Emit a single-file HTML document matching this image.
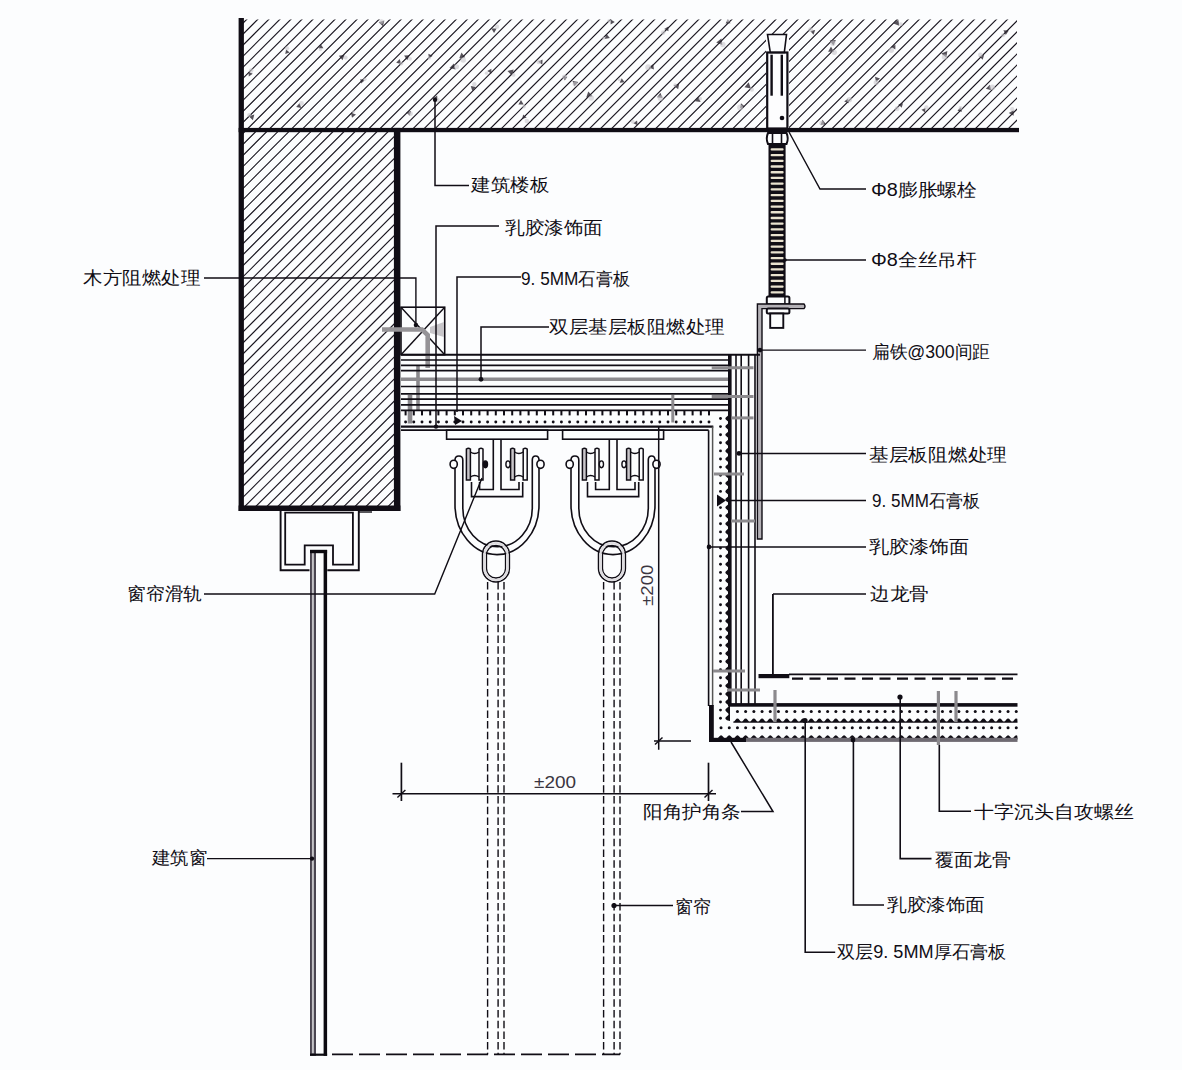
<!DOCTYPE html>
<html><head><meta charset="utf-8"><style>
html,body{margin:0;padding:0;background:#fdfdfe;width:1182px;height:1070px;overflow:hidden}
svg{display:block}
text{font-family:"Liberation Sans",sans-serif}
</style></head><body>
<svg width="1182" height="1070" viewBox="0 0 1182 1070">
<defs>
</defs>
<rect width="1182" height="1070" fill="#fcfdfe"/>
<clipPath id="hc"><rect x="243" y="19.5" width="774" height="110.5"/><rect x="243" y="130" width="153" height="376"/></clipPath>
<path clip-path="url(#hc)" d="M245.11,10 L-264.89,520 M256.13,10 L-253.87,520 M267.15,10 L-242.85,520 M278.18,10 L-231.82,520 M289.2,10 L-220.8,520 M300.23,10 L-209.77,520 M311.25,10 L-198.75,520 M322.28,10 L-187.72,520 M333.3,10 L-176.7,520 M344.33,10 L-165.67,520 M355.35,10 L-154.65,520 M366.38,10 L-143.62,520 M377.4,10 L-132.6,520 M388.43,10 L-121.57,520 M399.45,10 L-110.55,520 M410.48,10 L-99.52,520 M421.5,10 L-88.5,520 M432.53,10 L-77.47,520 M443.55,10 L-66.45,520 M454.58,10 L-55.42,520 M465.6,10 L-44.4,520 M476.63,10 L-33.37,520 M487.65,10 L-22.35,520 M498.68,10 L-11.32,520 M509.7,10 L-0.3,520 M520.73,10 L10.73,520 M531.75,10 L21.75,520 M542.78,10 L32.78,520 M553.8,10 L43.8,520 M564.83,10 L54.83,520 M575.85,10 L65.85,520 M586.88,10 L76.88,520 M597.9,10 L87.9,520 M608.93,10 L98.93,520 M619.95,10 L109.95,520 M630.98,10 L120.98,520 M642,10 L132,520 M653.03,10 L143.03,520 M664.05,10 L154.05,520 M675.08,10 L165.08,520 M686.1,10 L176.1,520 M697.13,10 L187.13,520 M708.15,10 L198.15,520 M719.18,10 L209.18,520 M730.2,10 L220.2,520 M741.23,10 L231.23,520 M752.25,10 L242.25,520 M763.28,10 L253.28,520 M774.3,10 L264.3,520 M785.33,10 L275.33,520 M796.35,10 L286.35,520 M807.38,10 L297.38,520 M818.4,10 L308.4,520 M829.43,10 L319.43,520 M840.45,10 L330.45,520 M851.48,10 L341.48,520 M862.5,10 L352.5,520 M873.53,10 L363.53,520 M884.55,10 L374.55,520 M895.58,10 L385.58,520 M906.6,10 L396.6,520 M917.63,10 L407.63,520 M928.65,10 L418.65,520 M939.68,10 L429.68,520 M950.7,10 L440.7,520 M961.73,10 L451.73,520 M972.75,10 L462.75,520 M983.78,10 L473.78,520 M994.8,10 L484.8,520 M1005.83,10 L495.83,520 M1016.85,10 L506.85,520 M1027.88,10 L517.88,520 M1038.9,10 L528.9,520 M1049.93,10 L539.93,520 M1060.95,10 L550.95,520 M1071.98,10 L561.98,520 M1083,10 L573,520 M1094.03,10 L584.03,520 M1105.05,10 L595.05,520 M1116.08,10 L606.08,520 M1127.1,10 L617.1,520 M1138.13,10 L628.13,520 M1149.15,10 L639.15,520" stroke="#1a1620" stroke-width="1.15" fill="none"/>
<polygon points="248.76,76.49 248.46,71.69 252.77,73.81" fill="#2a2530" opacity="0.8"/>
<circle cx="251.21" cy="70.58" r="2.3" fill="#c8c6cc" opacity="0.6"/>
<polygon points="285.23,54 286.15,49.47 289.62,52.51" fill="#2a2530" opacity="0.8"/>
<circle cx="287.06" cy="48.3" r="2.15" fill="#c8c6cc" opacity="0.6"/>
<polygon points="323.45,48.15 318.78,48.56 320.75,44.3" fill="#2a2530" opacity="0.8"/>
<circle cx="320.4" cy="49.61" r="1.69" fill="#c8c6cc" opacity="0.6"/>
<polygon points="342.56,60.31 338.85,55.85 344.56,54.84" fill="#2a2530" opacity="0.8"/>
<circle cx="345.58" cy="57.62" r="2.1" fill="#c8c6cc" opacity="0.6"/>
<polygon points="364.63,80.6 361.05,83.48 360.32,78.94" fill="#2a2530" opacity="0.8"/>
<circle cx="364.87" cy="79.32" r="1.72" fill="#c8c6cc" opacity="0.6"/>
<polygon points="301.19,108 296.17,106.91 299.61,103.09" fill="#2a2530" opacity="0.8"/>
<circle cx="301.53" cy="103.45" r="2.37" fill="#c8c6cc" opacity="0.6"/>
<polygon points="351.04,112.67 356,114.45 351.99,117.87" fill="#2a2530" opacity="0.8"/>
<circle cx="353.38" cy="111.5" r="1.59" fill="#c8c6cc" opacity="0.6"/>
<polygon points="382.94,26.29 378.68,22.18 384.36,20.53" fill="#2a2530" opacity="0.8"/>
<circle cx="381.42" cy="21.51" r="2.38" fill="#c8c6cc" opacity="0.6"/>
<polygon points="396.17,62.86 399.66,59.11 401.18,64" fill="#2a2530" opacity="0.8"/>
<circle cx="401.36" cy="63.59" r="1.87" fill="#c8c6cc" opacity="0.6"/>
<polygon points="404.11,55.55 409.69,55.21 407.21,60.22" fill="#2a2530" opacity="0.8"/>
<circle cx="410" cy="58.84" r="1.93" fill="#c8c6cc" opacity="0.6"/>
<polygon points="432.72,55.65 428.95,58.53 428.32,53.83" fill="#2a2530" opacity="0.8"/>
<circle cx="429.34" cy="58.06" r="1.73" fill="#c8c6cc" opacity="0.6"/>
<polygon points="433.36,98.19 437.15,95.61 437.5,100.18" fill="#2a2530" opacity="0.8"/>
<circle cx="437.35" cy="100.12" r="2.36" fill="#c8c6cc" opacity="0.6"/>
<polygon points="411.11,110.9 409.78,115.87 406.12,112.25" fill="#2a2530" opacity="0.8"/>
<circle cx="410.56" cy="113.75" r="2.37" fill="#c8c6cc" opacity="0.6"/>
<polygon points="449.53,67.99 453.87,63.5 455.61,69.49" fill="#2a2530" opacity="0.8"/>
<circle cx="456.56" cy="66.79" r="2.5" fill="#c8c6cc" opacity="0.6"/>
<polygon points="465.19,57.28 459.3,58.14 461.48,52.6" fill="#2a2530" opacity="0.8"/>
<circle cx="463.18" cy="59.94" r="2.73" fill="#c8c6cc" opacity="0.6"/>
<polygon points="472.34,90.99 470.73,85.94 475.91,87.05" fill="#2a2530" opacity="0.8"/>
<circle cx="474.35" cy="84.18" r="2.19" fill="#c8c6cc" opacity="0.6"/>
<polygon points="491.35,73.38 487.26,70.99 491.37,68.63" fill="#2a2530" opacity="0.8"/>
<circle cx="486.47" cy="73.15" r="1.69" fill="#c8c6cc" opacity="0.6"/>
<polygon points="494.05,33.07 491.31,28.52 496.62,28.4" fill="#2a2530" opacity="0.8"/>
<circle cx="496.97" cy="26.64" r="2.17" fill="#c8c6cc" opacity="0.6"/>
<polygon points="507.51,70.89 513.7,69.52 511.81,75.57" fill="#2a2530" opacity="0.8"/>
<circle cx="513.55" cy="74.91" r="1.92" fill="#c8c6cc" opacity="0.6"/>
<polygon points="518.39,104.54 520.96,99.97 523.65,104.47" fill="#2a2530" opacity="0.8"/>
<circle cx="524.07" cy="106.66" r="1.73" fill="#c8c6cc" opacity="0.6"/>
<polygon points="542.29,64.57 538.13,61.84 542.56,59.58" fill="#2a2530" opacity="0.8"/>
<circle cx="538.87" cy="61.88" r="2.38" fill="#c8c6cc" opacity="0.6"/>
<polygon points="564.79,80.6 562.85,76.53 567.34,76.86" fill="#2a2530" opacity="0.8"/>
<circle cx="564.35" cy="76.95" r="2.35" fill="#c8c6cc" opacity="0.6"/>
<polygon points="578.28,81.99 574.25,86.34 572.47,80.69" fill="#2a2530" opacity="0.8"/>
<circle cx="575.12" cy="83.94" r="2.51" fill="#c8c6cc" opacity="0.6"/>
<polygon points="592.47,96.22 586.22,97.41 588.29,91.39" fill="#2a2530" opacity="0.8"/>
<circle cx="591.24" cy="98" r="2.7" fill="#c8c6cc" opacity="0.6"/>
<polygon points="604.6,38.93 606.51,33.96 609.88,38.09" fill="#2a2530" opacity="0.8"/>
<circle cx="603.83" cy="38.07" r="1.59" fill="#c8c6cc" opacity="0.6"/>
<polygon points="624.6,82.17 619.69,82.68 621.69,78.17" fill="#2a2530" opacity="0.8"/>
<circle cx="619.3" cy="79.72" r="1.58" fill="#c8c6cc" opacity="0.6"/>
<polygon points="614.78,22 610.62,24.41 610.59,19.6" fill="#2a2530" opacity="0.8"/>
<circle cx="608.81" cy="20.91" r="1.54" fill="#c8c6cc" opacity="0.6"/>
<polygon points="254.34,114.62 252.9,120.21 248.76,116.19" fill="#2a2530" opacity="0.8"/>
<circle cx="249.19" cy="115.02" r="2.02" fill="#c8c6cc" opacity="0.6"/>
<polygon points="522.2,119.07 523.1,114.41 526.7,117.5" fill="#2a2530" opacity="0.8"/>
<circle cx="526.79" cy="120.94" r="2.2" fill="#c8c6cc" opacity="0.6"/>
<polygon points="633.31,123.28 637.09,120.53 637.6,125.18" fill="#2a2530" opacity="0.8"/>
<circle cx="632.82" cy="121.74" r="1.9" fill="#c8c6cc" opacity="0.6"/>
<polygon points="668.32,26.54 668.48,31.37 664.21,29.11" fill="#2a2530" opacity="0.8"/>
<circle cx="663.18" cy="32.61" r="2.29" fill="#c8c6cc" opacity="0.6"/>
<polygon points="653.97,69.59 648.78,67.42 653.23,63.99" fill="#2a2530" opacity="0.8"/>
<circle cx="648.22" cy="67.22" r="2.97" fill="#c8c6cc" opacity="0.6"/>
<polygon points="679.24,83.39 678.15,89.24 673.62,85.4" fill="#2a2530" opacity="0.8"/>
<circle cx="675.09" cy="84.93" r="1.75" fill="#c8c6cc" opacity="0.6"/>
<polygon points="698.44,96.79 700.57,101.97 695.01,101.25" fill="#2a2530" opacity="0.8"/>
<circle cx="700.23" cy="98.64" r="1.83" fill="#c8c6cc" opacity="0.6"/>
<polygon points="721.42,38.49 722.34,44.97 716.26,42.56" fill="#2a2530" opacity="0.8"/>
<circle cx="722.82" cy="44.45" r="2.73" fill="#c8c6cc" opacity="0.6"/>
<polygon points="727.81,19.13 730.58,23.26 725.63,23.62" fill="#2a2530" opacity="0.8"/>
<circle cx="728.14" cy="20.84" r="1.54" fill="#c8c6cc" opacity="0.6"/>
<polygon points="744.89,106.51 740.12,108.26 740.97,103.25" fill="#2a2530" opacity="0.8"/>
<circle cx="740.07" cy="107.54" r="2.93" fill="#c8c6cc" opacity="0.6"/>
<polygon points="744.48,87.22 748.69,82.34 750.84,88.41" fill="#2a2530" opacity="0.8"/>
<circle cx="751.9" cy="89.64" r="2.05" fill="#c8c6cc" opacity="0.6"/>
<polygon points="813.53,34.82 810.29,31.06 815.16,30.11" fill="#2a2530" opacity="0.8"/>
<circle cx="810.57" cy="29.63" r="2.44" fill="#c8c6cc" opacity="0.6"/>
<polygon points="835.92,39.88 833.4,45.59 829.69,40.56" fill="#2a2530" opacity="0.8"/>
<circle cx="832.84" cy="43.22" r="2.7" fill="#c8c6cc" opacity="0.6"/>
<polygon points="833.92,51.72 828.05,51.68 831,46.61" fill="#2a2530" opacity="0.8"/>
<circle cx="834.28" cy="52.26" r="2.63" fill="#c8c6cc" opacity="0.6"/>
<polygon points="844.21,101.39 848.04,98.39 848.75,103.2" fill="#2a2530" opacity="0.8"/>
<circle cx="849.31" cy="99.66" r="2.7" fill="#c8c6cc" opacity="0.6"/>
<polygon points="880.02,78.45 875.98,81.9 874.99,76.68" fill="#2a2530" opacity="0.8"/>
<circle cx="876.21" cy="82.57" r="2.59" fill="#c8c6cc" opacity="0.6"/>
<polygon points="895.33,49.41 891.25,46.96 895.4,44.63" fill="#2a2530" opacity="0.8"/>
<circle cx="891.21" cy="50.24" r="2.71" fill="#c8c6cc" opacity="0.6"/>
<polygon points="899.18,25.85 893.44,23.48 898.35,19.67" fill="#2a2530" opacity="0.8"/>
<circle cx="900.84" cy="24.26" r="2.03" fill="#c8c6cc" opacity="0.6"/>
<polygon points="898.37,104.17 903.02,103.13 901.62,107.69" fill="#2a2530" opacity="0.8"/>
<circle cx="897.11" cy="108.77" r="2.47" fill="#c8c6cc" opacity="0.6"/>
<polygon points="941.33,53.39 947.35,51.12 946.34,57.47" fill="#2a2530" opacity="0.8"/>
<circle cx="944.47" cy="56.97" r="2.74" fill="#c8c6cc" opacity="0.6"/>
<polygon points="982.71,59.82 979.21,56.22 984.07,54.96" fill="#2a2530" opacity="0.8"/>
<circle cx="980.34" cy="54.92" r="2.38" fill="#c8c6cc" opacity="0.6"/>
<polygon points="1005.82,35.1 1003.4,30.31 1008.76,30.58" fill="#2a2530" opacity="0.8"/>
<circle cx="1003.05" cy="35.28" r="2.03" fill="#c8c6cc" opacity="0.6"/>
<polygon points="985.81,88.86 989.83,84.81 991.36,90.31" fill="#2a2530" opacity="0.8"/>
<circle cx="992.23" cy="87.37" r="2.88" fill="#c8c6cc" opacity="0.6"/>
<polygon points="1008.76,112.97 1013.63,110.2 1013.62,115.8" fill="#2a2530" opacity="0.8"/>
<circle cx="1012.19" cy="109.15" r="2.16" fill="#c8c6cc" opacity="0.6"/>
<polygon points="925.06,112.38 921.41,109.74 925.51,107.88" fill="#2a2530" opacity="0.8"/>
<circle cx="926.39" cy="107.38" r="2.21" fill="#c8c6cc" opacity="0.6"/>
<polygon points="822.49,119.77 826.06,124.15 820.48,125.08" fill="#2a2530" opacity="0.8"/>
<circle cx="821.61" cy="123.15" r="2.33" fill="#c8c6cc" opacity="0.6"/>
<polygon points="960.58,107.33 962.03,111.82 957.41,110.86" fill="#2a2530" opacity="0.8"/>
<circle cx="960.48" cy="107.99" r="1.92" fill="#c8c6cc" opacity="0.6"/>
<polygon points="660.44,92.82 662.54,97.96 657.04,97.23" fill="#2a2530" opacity="0.8"/>
<circle cx="660.49" cy="98.08" r="2.87" fill="#c8c6cc" opacity="0.6"/>
<polygon points="778.88,118.17 782.54,113.71 784.59,119.1" fill="#2a2530" opacity="0.8"/>
<circle cx="782.04" cy="117.1" r="2.54" fill="#c8c6cc" opacity="0.6"/>
<rect x="238.6" y="18" width="5.3" height="493" fill="#100d15"/>
<rect x="238.6" y="127.9" width="780.4" height="4.3" fill="#100d15"/>
<rect x="393.9" y="127.9" width="6.5" height="383.1" fill="#100d15"/>
<rect x="238.6" y="505.5" width="161.8" height="5.5" fill="#100d15"/>
<path d="M280.6,511 V570.2 H309.5 M327.3,570.2 H358.8 V511" fill="none" stroke="#100d15" stroke-width="1.9" />
<path d="M285.2,512.7 H352.9 V564.7 H333 V545.3 H304.7 V564.7 H285.2 Z" fill="none" stroke="#100d15" stroke-width="1.8" />
<line x1="359" y1="512" x2="372" y2="512" stroke="#100d15" stroke-width="1.4" />
<rect x="310" y="550" width="6" height="505.8" fill="#4a4550"/>
<rect x="311.9" y="553" width="2" height="500.5" fill="#c4c2c6"/>
<rect x="323.6" y="550" width="3.5" height="505.8" fill="#0c0a10"/>
<rect x="310" y="549.8" width="17.1" height="3.4" fill="#0c0a10"/>
<rect x="310" y="1053.6" width="17.1" height="2.2" fill="#0c0a10"/>
<rect x="766" y="34" width="23" height="94" fill="#fdfdfe"/>
<path d="M767.5,34.5 H786.5 L784.3,52.5 H770.3 Z" fill="#fcfdfe" stroke="#100d15" stroke-width="1.6" />
<rect x="767.2" y="52.5" width="20.2" height="76" fill="none" stroke="#100d15" stroke-width="2.2" />
<rect x="770.4" y="54.7" width="2.4" height="41" fill="#100d15"/>
<rect x="780.6" y="54.7" width="2.4" height="41" fill="#100d15"/>
<circle cx="782" cy="118" r="2.3" fill="#100d15"/>
<path d="M789,132 L820,189 H866" fill="none" stroke="#100d15" stroke-width="1.4" />
<path d="M768,133 H786.5 Q789,138.5 786.5,144 H768 Q765.5,138.5 768,133 Z" fill="#fcfdfe" stroke="#100d15" stroke-width="2" />
<line x1="772.5" y1="133" x2="772.5" y2="144" stroke="#100d15" stroke-width="1.6" />
<line x1="781.5" y1="133" x2="781.5" y2="144" stroke="#100d15" stroke-width="1.6" />
<rect x="768.5" y="144" width="17.1" height="152.2" fill="#100d15"/>
<rect x="770.6" y="148.2" width="13" height="2.3" rx="1" fill="#e9e2cf"/>
<rect x="770.6" y="153.92" width="13" height="2.3" rx="1" fill="#e9e2cf"/>
<rect x="770.6" y="159.64" width="13" height="2.3" rx="1" fill="#e9e2cf"/>
<rect x="770.6" y="165.36" width="13" height="2.3" rx="1" fill="#e9e2cf"/>
<rect x="770.6" y="171.08" width="13" height="2.3" rx="1" fill="#e9e2cf"/>
<rect x="770.6" y="176.8" width="13" height="2.3" rx="1" fill="#e9e2cf"/>
<rect x="770.6" y="182.52" width="13" height="2.3" rx="1" fill="#e9e2cf"/>
<rect x="770.6" y="188.24" width="13" height="2.3" rx="1" fill="#e9e2cf"/>
<rect x="770.6" y="193.96" width="13" height="2.3" rx="1" fill="#e9e2cf"/>
<rect x="770.6" y="199.68" width="13" height="2.3" rx="1" fill="#e9e2cf"/>
<rect x="770.6" y="205.4" width="13" height="2.3" rx="1" fill="#e9e2cf"/>
<rect x="770.6" y="211.12" width="13" height="2.3" rx="1" fill="#e9e2cf"/>
<rect x="770.6" y="216.84" width="13" height="2.3" rx="1" fill="#e9e2cf"/>
<rect x="770.6" y="222.56" width="13" height="2.3" rx="1" fill="#e9e2cf"/>
<rect x="770.6" y="228.28" width="13" height="2.3" rx="1" fill="#e9e2cf"/>
<rect x="770.6" y="234" width="13" height="2.3" rx="1" fill="#e9e2cf"/>
<rect x="770.6" y="239.72" width="13" height="2.3" rx="1" fill="#e9e2cf"/>
<rect x="770.6" y="245.44" width="13" height="2.3" rx="1" fill="#e9e2cf"/>
<rect x="770.6" y="251.16" width="13" height="2.3" rx="1" fill="#e9e2cf"/>
<rect x="770.6" y="256.88" width="13" height="2.3" rx="1" fill="#e9e2cf"/>
<rect x="770.6" y="262.6" width="13" height="2.3" rx="1" fill="#e9e2cf"/>
<rect x="770.6" y="268.32" width="13" height="2.3" rx="1" fill="#e9e2cf"/>
<rect x="770.6" y="274.04" width="13" height="2.3" rx="1" fill="#e9e2cf"/>
<rect x="770.6" y="279.76" width="13" height="2.3" rx="1" fill="#e9e2cf"/>
<rect x="770.6" y="285.48" width="13" height="2.3" rx="1" fill="#e9e2cf"/>
<rect x="770.6" y="291.2" width="13" height="2.3" rx="1" fill="#e9e2cf"/>
<rect x="766.8" y="296.4" width="22.6" height="7.8" fill="#fcfdfe" stroke="#100d15" stroke-width="2" rx="1.5"/>
<line x1="784.9" y1="296.4" x2="784.9" y2="304" stroke="#100d15" stroke-width="1.5" />
<path d="M757.4,539 V304 H804 Q806,306.3 804,308.6 H762 V539 Z" fill="#b4b1b6" stroke="#100d15" stroke-width="1.4" />
<rect x="766.8" y="308.6" width="22.6" height="5" fill="#fcfdfe" stroke="#100d15" stroke-width="2" rx="1.5"/>
<rect x="770.2" y="313.5" width="13.1" height="14.4" fill="#fcfdfe" stroke="#100d15" stroke-width="1.9" />
<line x1="785" y1="260" x2="866" y2="260" stroke="#100d15" stroke-width="1.4" />
<circle cx="785" cy="260" r="1.8" fill="#100d15"/>
<line x1="760" y1="350.1" x2="866" y2="350.1" stroke="#100d15" stroke-width="1.4" />
<circle cx="760" cy="350.1" r="2.3" fill="#100d15"/>
<rect x="401" y="307.2" width="43.7" height="47.5" fill="none" stroke="#100d15" stroke-width="1.6" />
<line x1="401" y1="307.2" x2="444.7" y2="354.7" stroke="#100d15" stroke-width="1.4" />
<line x1="444.7" y1="307.2" x2="401" y2="354.7" stroke="#100d15" stroke-width="1.4" />
<path d="M382,329.5 H422 L427.7,335 V368" fill="none" stroke="#959397" stroke-width="4.6" />
<polygon points="430,327 444,322 444,337 430,333" fill="#c8c6ca"/>
<line x1="418" y1="365" x2="418" y2="411" stroke="#8a888c" stroke-width="3.6" />
<line x1="410" y1="395" x2="410" y2="423.5" stroke="#8a888c" stroke-width="4.6" />
<line x1="401" y1="354.7" x2="760" y2="354.7" stroke="#100d15" stroke-width="2" />
<line x1="401" y1="360" x2="730" y2="360" stroke="#100d15" stroke-width="1.7" />
<line x1="401" y1="365.4" x2="730" y2="365.4" stroke="#100d15" stroke-width="1.7" />
<line x1="401" y1="370.6" x2="730" y2="370.6" stroke="#100d15" stroke-width="1.7" />
<line x1="401" y1="386.5" x2="730" y2="386.5" stroke="#100d15" stroke-width="1.7" />
<line x1="401" y1="393.8" x2="730" y2="393.8" stroke="#100d15" stroke-width="1.7" />
<line x1="401" y1="399.2" x2="730" y2="399.2" stroke="#100d15" stroke-width="1.7" />
<line x1="401" y1="404.9" x2="730" y2="404.9" stroke="#100d15" stroke-width="1.7" />
<line x1="401" y1="379.3" x2="730" y2="379.3" stroke="#8c8a8e" stroke-width="3.6" />
<line x1="401" y1="410.4" x2="730" y2="410.4" stroke="#100d15" stroke-width="1.8" />
<rect x="404.6" y="410.4" width="2" height="5" fill="#100d15"/>
<circle cx="405.6" cy="422" r="1.45" fill="#100d15"/>
<rect x="412.8" y="410.4" width="2" height="5" fill="#100d15"/>
<circle cx="413.8" cy="422" r="1.45" fill="#100d15"/>
<rect x="421" y="410.4" width="2" height="5" fill="#100d15"/>
<circle cx="422" cy="422" r="1.45" fill="#100d15"/>
<rect x="429.2" y="410.4" width="2" height="5" fill="#100d15"/>
<circle cx="430.2" cy="422" r="1.45" fill="#100d15"/>
<rect x="437.4" y="410.4" width="2" height="5" fill="#100d15"/>
<circle cx="438.4" cy="422" r="1.45" fill="#100d15"/>
<rect x="445.6" y="410.4" width="2" height="5" fill="#100d15"/>
<circle cx="446.6" cy="422" r="1.45" fill="#100d15"/>
<rect x="453.8" y="410.4" width="2" height="5" fill="#100d15"/>
<circle cx="454.8" cy="422" r="1.45" fill="#100d15"/>
<rect x="462" y="410.4" width="2" height="5" fill="#100d15"/>
<circle cx="463" cy="422" r="1.45" fill="#100d15"/>
<rect x="470.2" y="410.4" width="2" height="5" fill="#100d15"/>
<circle cx="471.2" cy="422" r="1.45" fill="#100d15"/>
<rect x="478.4" y="410.4" width="2" height="5" fill="#100d15"/>
<circle cx="479.4" cy="422" r="1.45" fill="#100d15"/>
<rect x="486.6" y="410.4" width="2" height="5" fill="#100d15"/>
<circle cx="487.6" cy="422" r="1.45" fill="#100d15"/>
<rect x="494.8" y="410.4" width="2" height="5" fill="#100d15"/>
<circle cx="495.8" cy="422" r="1.45" fill="#100d15"/>
<rect x="503" y="410.4" width="2" height="5" fill="#100d15"/>
<circle cx="504" cy="422" r="1.45" fill="#100d15"/>
<rect x="511.2" y="410.4" width="2" height="5" fill="#100d15"/>
<circle cx="512.2" cy="422" r="1.45" fill="#100d15"/>
<rect x="519.4" y="410.4" width="2" height="5" fill="#100d15"/>
<circle cx="520.4" cy="422" r="1.45" fill="#100d15"/>
<rect x="527.6" y="410.4" width="2" height="5" fill="#100d15"/>
<circle cx="528.6" cy="422" r="1.45" fill="#100d15"/>
<rect x="535.8" y="410.4" width="2" height="5" fill="#100d15"/>
<circle cx="536.8" cy="422" r="1.45" fill="#100d15"/>
<rect x="544" y="410.4" width="2" height="5" fill="#100d15"/>
<circle cx="545" cy="422" r="1.45" fill="#100d15"/>
<rect x="552.2" y="410.4" width="2" height="5" fill="#100d15"/>
<circle cx="553.2" cy="422" r="1.45" fill="#100d15"/>
<rect x="560.4" y="410.4" width="2" height="5" fill="#100d15"/>
<circle cx="561.4" cy="422" r="1.45" fill="#100d15"/>
<rect x="568.6" y="410.4" width="2" height="5" fill="#100d15"/>
<circle cx="569.6" cy="422" r="1.45" fill="#100d15"/>
<rect x="576.8" y="410.4" width="2" height="5" fill="#100d15"/>
<circle cx="577.8" cy="422" r="1.45" fill="#100d15"/>
<rect x="585" y="410.4" width="2" height="5" fill="#100d15"/>
<circle cx="586" cy="422" r="1.45" fill="#100d15"/>
<rect x="593.2" y="410.4" width="2" height="5" fill="#100d15"/>
<circle cx="594.2" cy="422" r="1.45" fill="#100d15"/>
<rect x="601.4" y="410.4" width="2" height="5" fill="#100d15"/>
<circle cx="602.4" cy="422" r="1.45" fill="#100d15"/>
<rect x="609.6" y="410.4" width="2" height="5" fill="#100d15"/>
<circle cx="610.6" cy="422" r="1.45" fill="#100d15"/>
<rect x="617.8" y="410.4" width="2" height="5" fill="#100d15"/>
<circle cx="618.8" cy="422" r="1.45" fill="#100d15"/>
<rect x="626" y="410.4" width="2" height="5" fill="#100d15"/>
<circle cx="627" cy="422" r="1.45" fill="#100d15"/>
<rect x="634.2" y="410.4" width="2" height="5" fill="#100d15"/>
<circle cx="635.2" cy="422" r="1.45" fill="#100d15"/>
<rect x="642.4" y="410.4" width="2" height="5" fill="#100d15"/>
<circle cx="643.4" cy="422" r="1.45" fill="#100d15"/>
<rect x="650.6" y="410.4" width="2" height="5" fill="#100d15"/>
<circle cx="651.6" cy="422" r="1.45" fill="#100d15"/>
<rect x="658.8" y="410.4" width="2" height="5" fill="#100d15"/>
<circle cx="659.8" cy="422" r="1.45" fill="#100d15"/>
<rect x="667" y="410.4" width="2" height="5" fill="#100d15"/>
<circle cx="668" cy="422" r="1.45" fill="#100d15"/>
<rect x="675.2" y="410.4" width="2" height="5" fill="#100d15"/>
<circle cx="676.2" cy="422" r="1.45" fill="#100d15"/>
<rect x="683.4" y="410.4" width="2" height="5" fill="#100d15"/>
<circle cx="684.4" cy="422" r="1.45" fill="#100d15"/>
<rect x="691.6" y="410.4" width="2" height="5" fill="#100d15"/>
<circle cx="692.6" cy="422" r="1.45" fill="#100d15"/>
<rect x="699.8" y="410.4" width="2" height="5" fill="#100d15"/>
<circle cx="700.8" cy="422" r="1.45" fill="#100d15"/>
<rect x="708" y="410.4" width="2" height="5" fill="#100d15"/>
<circle cx="709" cy="422" r="1.45" fill="#100d15"/>
<line x1="401" y1="426.6" x2="713.3" y2="426.6" stroke="#100d15" stroke-width="2.2" />
<line x1="401" y1="430.2" x2="708.6" y2="430.2" stroke="#100d15" stroke-width="1.8" />
<line x1="708.6" y1="430.2" x2="708.6" y2="706" stroke="#100d15" stroke-width="1.6" />
<line x1="712.6" y1="426.6" x2="712.6" y2="706" stroke="#555" stroke-width="1.5" />
<rect x="709" y="705" width="4.8" height="37" fill="#100d15"/>
<rect x="728" y="354.7" width="3.6" height="351.3" fill="#100d15"/>
<line x1="736" y1="354.7" x2="736" y2="704.5" stroke="#100d15" stroke-width="1.6" />
<line x1="741.2" y1="354.7" x2="741.2" y2="704.5" stroke="#100d15" stroke-width="1.6" />
<line x1="748.6" y1="354.7" x2="748.6" y2="704.5" stroke="#100d15" stroke-width="1.6" />
<line x1="755" y1="354.7" x2="755" y2="704.5" stroke="#100d15" stroke-width="1.6" />
<circle cx="720.5" cy="418.5" r="1.45" fill="#100d15"/>
<circle cx="720.5" cy="426.6" r="1.45" fill="#100d15"/>
<circle cx="720.5" cy="434.7" r="1.45" fill="#100d15"/>
<circle cx="720.5" cy="442.8" r="1.45" fill="#100d15"/>
<circle cx="720.5" cy="450.9" r="1.45" fill="#100d15"/>
<circle cx="720.5" cy="459" r="1.45" fill="#100d15"/>
<circle cx="720.5" cy="467.1" r="1.45" fill="#100d15"/>
<circle cx="720.5" cy="475.2" r="1.45" fill="#100d15"/>
<circle cx="720.5" cy="483.3" r="1.45" fill="#100d15"/>
<circle cx="720.5" cy="491.4" r="1.45" fill="#100d15"/>
<circle cx="720.5" cy="499.5" r="1.45" fill="#100d15"/>
<circle cx="720.5" cy="507.6" r="1.45" fill="#100d15"/>
<circle cx="720.5" cy="515.7" r="1.45" fill="#100d15"/>
<circle cx="720.5" cy="523.8" r="1.45" fill="#100d15"/>
<circle cx="720.5" cy="531.9" r="1.45" fill="#100d15"/>
<circle cx="720.5" cy="540" r="1.45" fill="#100d15"/>
<circle cx="720.5" cy="548.1" r="1.45" fill="#100d15"/>
<circle cx="720.5" cy="556.2" r="1.45" fill="#100d15"/>
<circle cx="720.5" cy="564.3" r="1.45" fill="#100d15"/>
<circle cx="720.5" cy="572.4" r="1.45" fill="#100d15"/>
<circle cx="720.5" cy="580.5" r="1.45" fill="#100d15"/>
<circle cx="720.5" cy="588.6" r="1.45" fill="#100d15"/>
<circle cx="720.5" cy="596.7" r="1.45" fill="#100d15"/>
<circle cx="720.5" cy="604.8" r="1.45" fill="#100d15"/>
<circle cx="720.5" cy="612.9" r="1.45" fill="#100d15"/>
<circle cx="720.5" cy="621" r="1.45" fill="#100d15"/>
<circle cx="720.5" cy="629.1" r="1.45" fill="#100d15"/>
<circle cx="720.5" cy="637.2" r="1.45" fill="#100d15"/>
<circle cx="720.5" cy="645.3" r="1.45" fill="#100d15"/>
<circle cx="720.5" cy="653.4" r="1.45" fill="#100d15"/>
<circle cx="720.5" cy="661.5" r="1.45" fill="#100d15"/>
<circle cx="720.5" cy="669.6" r="1.45" fill="#100d15"/>
<circle cx="720.5" cy="677.7" r="1.45" fill="#100d15"/>
<circle cx="720.5" cy="685.8" r="1.45" fill="#100d15"/>
<circle cx="720.5" cy="693.9" r="1.45" fill="#100d15"/>
<circle cx="720.5" cy="702" r="1.45" fill="#100d15"/>
<circle cx="720.5" cy="710.1" r="1.45" fill="#100d15"/>
<circle cx="720.5" cy="718.2" r="1.45" fill="#100d15"/>
<path d="M730,414.4 L728.6,414.45 L728.12,415.46 L726.95,416.47 L725.78,417.49 L725.3,418.5 L725.78,419.51 L726.95,420.52 L728.12,421.54 L728.6,422.55 L728.12,423.56 L726.95,424.57 L725.78,425.59 L725.3,426.6 L725.78,427.61 L726.95,428.62 L728.12,429.64 L728.6,430.65 L728.12,431.66 L726.95,432.67 L725.78,433.69 L725.3,434.7 L725.78,435.71 L726.95,436.72 L728.12,437.74 L728.6,438.75 L728.12,439.76 L726.95,440.77 L725.78,441.79 L725.3,442.8 L725.78,443.81 L726.95,444.82 L728.12,445.84 L728.6,446.85 L728.12,447.86 L726.95,448.87 L725.78,449.89 L725.3,450.9 L725.78,451.91 L726.95,452.92 L728.12,453.94 L728.6,454.95 L728.12,455.96 L726.95,456.97 L725.78,457.99 L725.3,459 L725.78,460.01 L726.95,461.02 L728.12,462.04 L728.6,463.05 L728.12,464.06 L726.95,465.07 L725.78,466.09 L725.3,467.1 L725.78,468.11 L726.95,469.12 L728.12,470.14 L728.6,471.15 L728.12,472.16 L726.95,473.17 L725.78,474.19 L725.3,475.2 L725.78,476.21 L726.95,477.22 L728.12,478.24 L728.6,479.25 L728.12,480.26 L726.95,481.27 L725.78,482.29 L725.3,483.3 L725.78,484.31 L726.95,485.32 L728.12,486.34 L728.6,487.35 L728.12,488.36 L726.95,489.37 L725.78,490.39 L725.3,491.4 L725.78,492.41 L726.95,493.42 L728.12,494.44 L728.6,495.45 L728.12,496.46 L726.95,497.47 L725.78,498.49 L725.3,499.5 L725.78,500.51 L726.95,501.52 L728.12,502.54 L728.6,503.55 L728.12,504.56 L726.95,505.57 L725.78,506.59 L725.3,507.6 L725.78,508.61 L726.95,509.62 L728.12,510.64 L728.6,511.65 L728.12,512.66 L726.95,513.67 L725.78,514.69 L725.3,515.7 L725.78,516.71 L726.95,517.72 L728.12,518.74 L728.6,519.75 L728.12,520.76 L726.95,521.77 L725.78,522.79 L725.3,523.8 L725.78,524.81 L726.95,525.82 L728.12,526.84 L728.6,527.85 L728.12,528.86 L726.95,529.87 L725.78,530.89 L725.3,531.9 L725.78,532.91 L726.95,533.92 L728.12,534.94 L728.6,535.95 L728.12,536.96 L726.95,537.98 L725.78,538.99 L725.3,540 L725.78,541.01 L726.95,542.03 L728.12,543.04 L728.6,544.05 L728.12,545.06 L726.95,546.08 L725.78,547.09 L725.3,548.1 L725.78,549.11 L726.95,550.13 L728.12,551.14 L728.6,552.15 L728.12,553.16 L726.95,554.18 L725.78,555.19 L725.3,556.2 L725.78,557.21 L726.95,558.23 L728.12,559.24 L728.6,560.25 L728.12,561.26 L726.95,562.28 L725.78,563.29 L725.3,564.3 L725.78,565.31 L726.95,566.33 L728.12,567.34 L728.6,568.35 L728.12,569.36 L726.95,570.38 L725.78,571.39 L725.3,572.4 L725.78,573.41 L726.95,574.43 L728.12,575.44 L728.6,576.45 L728.12,577.46 L726.95,578.48 L725.78,579.49 L725.3,580.5 L725.78,581.51 L726.95,582.53 L728.12,583.54 L728.6,584.55 L728.12,585.56 L726.95,586.58 L725.78,587.59 L725.3,588.6 L725.78,589.61 L726.95,590.63 L728.12,591.64 L728.6,592.65 L728.12,593.66 L726.95,594.68 L725.78,595.69 L725.3,596.7 L725.78,597.71 L726.95,598.73 L728.12,599.74 L728.6,600.75 L728.12,601.76 L726.95,602.78 L725.78,603.79 L725.3,604.8 L725.78,605.81 L726.95,606.83 L728.12,607.84 L728.6,608.85 L728.12,609.86 L726.95,610.88 L725.78,611.89 L725.3,612.9 L725.78,613.91 L726.95,614.93 L728.12,615.94 L728.6,616.95 L728.12,617.96 L726.95,618.98 L725.78,619.99 L725.3,621 L725.78,622.01 L726.95,623.03 L728.12,624.04 L728.6,625.05 L728.12,626.06 L726.95,627.08 L725.78,628.09 L725.3,629.1 L725.78,630.11 L726.95,631.13 L728.12,632.14 L728.6,633.15 L728.12,634.16 L726.95,635.18 L725.78,636.19 L725.3,637.2 L725.78,638.21 L726.95,639.23 L728.12,640.24 L728.6,641.25 L728.12,642.26 L726.95,643.28 L725.78,644.29 L725.3,645.3 L725.78,646.31 L726.95,647.33 L728.12,648.34 L728.6,649.35 L728.12,650.36 L726.95,651.38 L725.78,652.39 L725.3,653.4 L725.78,654.41 L726.95,655.43 L728.12,656.44 L728.6,657.45 L728.12,658.46 L726.95,659.48 L725.78,660.49 L725.3,661.5 L725.78,662.51 L726.95,663.53 L728.12,664.54 L728.6,665.55 L728.12,666.56 L726.95,667.58 L725.78,668.59 L725.3,669.6 L725.78,670.61 L726.95,671.63 L728.12,672.64 L728.6,673.65 L728.12,674.66 L726.95,675.68 L725.78,676.69 L725.3,677.7 L725.78,678.71 L726.95,679.73 L728.12,680.74 L728.6,681.75 L728.12,682.76 L726.95,683.78 L725.78,684.79 L725.3,685.8 L725.78,686.81 L726.95,687.83 L728.12,688.84 L728.6,689.85 L728.12,690.86 L726.95,691.88 L725.78,692.89 L725.3,693.9 L725.78,694.91 L726.95,695.93 L728.12,696.94 L728.6,697.95 L728.12,698.96 L726.95,699.98 L725.78,700.99 L725.3,702 L725.78,703.01 L726.95,704.03 L728.12,705.04 L728.6,706.05 L728.12,707.06 L726.95,708.08 L725.78,709.09 L725.3,710.1 L725.78,711.11 L726.95,712.13 L728.12,713.14 L728.6,714.15 L728.12,715.16 L726.95,716.18 L725.78,717.19 L725.3,718.2 L725.78,719.21 L726.95,720.23 L730,721 Z" fill="#100d15"/>
<line x1="711.7" y1="367.7" x2="753.5" y2="367.7" stroke="#8c8a8e" stroke-width="3" />
<line x1="711.7" y1="396.6" x2="753.5" y2="396.6" stroke="#8c8a8e" stroke-width="3" />
<line x1="731.5" y1="417.9" x2="753.5" y2="417.9" stroke="#8c8a8e" stroke-width="3" />
<line x1="714" y1="474" x2="744" y2="474" stroke="#8c8a8e" stroke-width="3" />
<line x1="731" y1="521" x2="755" y2="521" stroke="#8c8a8e" stroke-width="3" />
<line x1="713" y1="671" x2="745" y2="671" stroke="#8c8a8e" stroke-width="3" />
<line x1="727" y1="690" x2="760" y2="690" stroke="#8c8a8e" stroke-width="3" />
<line x1="672.8" y1="395" x2="672.8" y2="422.5" stroke="#8c8a8e" stroke-width="3" />
<rect x="730" y="703.1" width="287.5" height="3.6" fill="#100d15"/>
<circle cx="737.45" cy="711.4" r="1.5" fill="#100d15"/>
<circle cx="745.65" cy="711.4" r="1.5" fill="#100d15"/>
<circle cx="753.85" cy="711.4" r="1.5" fill="#100d15"/>
<circle cx="762.05" cy="711.4" r="1.5" fill="#100d15"/>
<circle cx="770.25" cy="711.4" r="1.5" fill="#100d15"/>
<circle cx="778.45" cy="711.4" r="1.5" fill="#100d15"/>
<circle cx="786.65" cy="711.4" r="1.5" fill="#100d15"/>
<circle cx="794.85" cy="711.4" r="1.5" fill="#100d15"/>
<circle cx="803.05" cy="711.4" r="1.5" fill="#100d15"/>
<circle cx="811.25" cy="711.4" r="1.5" fill="#100d15"/>
<circle cx="819.45" cy="711.4" r="1.5" fill="#100d15"/>
<circle cx="827.65" cy="711.4" r="1.5" fill="#100d15"/>
<circle cx="835.85" cy="711.4" r="1.5" fill="#100d15"/>
<circle cx="844.05" cy="711.4" r="1.5" fill="#100d15"/>
<circle cx="852.25" cy="711.4" r="1.5" fill="#100d15"/>
<circle cx="860.45" cy="711.4" r="1.5" fill="#100d15"/>
<circle cx="868.65" cy="711.4" r="1.5" fill="#100d15"/>
<circle cx="876.85" cy="711.4" r="1.5" fill="#100d15"/>
<circle cx="885.05" cy="711.4" r="1.5" fill="#100d15"/>
<circle cx="893.25" cy="711.4" r="1.5" fill="#100d15"/>
<circle cx="901.45" cy="711.4" r="1.5" fill="#100d15"/>
<circle cx="909.65" cy="711.4" r="1.5" fill="#100d15"/>
<circle cx="917.85" cy="711.4" r="1.5" fill="#100d15"/>
<circle cx="926.05" cy="711.4" r="1.5" fill="#100d15"/>
<circle cx="934.25" cy="711.4" r="1.5" fill="#100d15"/>
<circle cx="942.45" cy="711.4" r="1.5" fill="#100d15"/>
<circle cx="950.65" cy="711.4" r="1.5" fill="#100d15"/>
<circle cx="958.85" cy="711.4" r="1.5" fill="#100d15"/>
<circle cx="967.05" cy="711.4" r="1.5" fill="#100d15"/>
<circle cx="975.25" cy="711.4" r="1.5" fill="#100d15"/>
<circle cx="983.45" cy="711.4" r="1.5" fill="#100d15"/>
<circle cx="991.65" cy="711.4" r="1.5" fill="#100d15"/>
<circle cx="999.85" cy="711.4" r="1.5" fill="#100d15"/>
<circle cx="1008.05" cy="711.4" r="1.5" fill="#100d15"/>
<circle cx="1016.25" cy="711.4" r="1.5" fill="#100d15"/>
<path d="M733.35,722.8 L733.35,721.6 L734.38,721.13 L735.4,720 L736.42,718.87 L737.45,718.4 L738.47,718.87 L739.5,720 L740.52,721.13 L741.55,721.6 L742.57,721.13 L743.6,720 L744.62,718.87 L745.65,718.4 L746.67,718.87 L747.7,720 L748.72,721.13 L749.75,721.6 L750.77,721.13 L751.8,720 L752.82,718.87 L753.85,718.4 L754.87,718.87 L755.9,720 L756.92,721.13 L757.95,721.6 L758.97,721.13 L760,720 L761.02,718.87 L762.05,718.4 L763.07,718.87 L764.1,720 L765.12,721.13 L766.15,721.6 L767.17,721.13 L768.2,720 L769.22,718.87 L770.25,718.4 L771.27,718.87 L772.3,720 L773.32,721.13 L774.35,721.6 L775.37,721.13 L776.4,720 L777.42,718.87 L778.45,718.4 L779.47,718.87 L780.5,720 L781.52,721.13 L782.55,721.6 L783.57,721.13 L784.6,720 L785.62,718.87 L786.65,718.4 L787.67,718.87 L788.7,720 L789.72,721.13 L790.75,721.6 L791.77,721.13 L792.8,720 L793.82,718.87 L794.85,718.4 L795.87,718.87 L796.9,720 L797.92,721.13 L798.95,721.6 L799.97,721.13 L801,720 L802.02,718.87 L803.05,718.4 L804.07,718.87 L805.1,720 L806.12,721.13 L807.15,721.6 L808.17,721.13 L809.2,720 L810.22,718.87 L811.25,718.4 L812.27,718.87 L813.3,720 L814.32,721.13 L815.35,721.6 L816.37,721.13 L817.4,720 L818.42,718.87 L819.45,718.4 L820.47,718.87 L821.5,720 L822.52,721.13 L823.55,721.6 L824.57,721.13 L825.6,720 L826.62,718.87 L827.65,718.4 L828.67,718.87 L829.7,720 L830.72,721.13 L831.75,721.6 L832.77,721.13 L833.8,720 L834.82,718.87 L835.85,718.4 L836.87,718.87 L837.9,720 L838.92,721.13 L839.95,721.6 L840.97,721.13 L842,720 L843.02,718.87 L844.05,718.4 L845.07,718.87 L846.1,720 L847.12,721.13 L848.15,721.6 L849.17,721.13 L850.2,720 L851.22,718.87 L852.25,718.4 L853.27,718.87 L854.3,720 L855.32,721.13 L856.35,721.6 L857.37,721.13 L858.4,720 L859.42,718.87 L860.45,718.4 L861.47,718.87 L862.5,720 L863.52,721.13 L864.55,721.6 L865.57,721.13 L866.6,720 L867.62,718.87 L868.65,718.4 L869.67,718.87 L870.7,720 L871.72,721.13 L872.75,721.6 L873.77,721.13 L874.8,720 L875.82,718.87 L876.85,718.4 L877.87,718.87 L878.9,720 L879.92,721.13 L880.95,721.6 L881.97,721.13 L883,720 L884.02,718.87 L885.05,718.4 L886.07,718.87 L887.1,720 L888.12,721.13 L889.15,721.6 L890.17,721.13 L891.2,720 L892.22,718.87 L893.25,718.4 L894.27,718.87 L895.3,720 L896.32,721.13 L897.35,721.6 L898.37,721.13 L899.4,720 L900.42,718.87 L901.45,718.4 L902.47,718.87 L903.5,720 L904.52,721.13 L905.55,721.6 L906.57,721.13 L907.6,720 L908.62,718.87 L909.65,718.4 L910.67,718.87 L911.7,720 L912.72,721.13 L913.75,721.6 L914.77,721.13 L915.8,720 L916.82,718.87 L917.85,718.4 L918.87,718.87 L919.9,720 L920.92,721.13 L921.95,721.6 L922.97,721.13 L924,720 L925.02,718.87 L926.05,718.4 L927.07,718.87 L928.1,720 L929.12,721.13 L930.15,721.6 L931.17,721.13 L932.2,720 L933.22,718.87 L934.25,718.4 L935.27,718.87 L936.3,720 L937.32,721.13 L938.35,721.6 L939.37,721.13 L940.4,720 L941.42,718.87 L942.45,718.4 L943.47,718.87 L944.5,720 L945.52,721.13 L946.55,721.6 L947.57,721.13 L948.6,720 L949.62,718.87 L950.65,718.4 L951.67,718.87 L952.7,720 L953.72,721.13 L954.75,721.6 L955.77,721.13 L956.8,720 L957.82,718.87 L958.85,718.4 L959.87,718.87 L960.9,720 L961.92,721.13 L962.95,721.6 L963.97,721.13 L965,720 L966.02,718.87 L967.05,718.4 L968.07,718.87 L969.1,720 L970.12,721.13 L971.15,721.6 L972.17,721.13 L973.2,720 L974.22,718.87 L975.25,718.4 L976.27,718.87 L977.3,720 L978.32,721.13 L979.35,721.6 L980.37,721.13 L981.4,720 L982.42,718.87 L983.45,718.4 L984.47,718.87 L985.5,720 L986.52,721.13 L987.55,721.6 L988.57,721.13 L989.6,720 L990.62,718.87 L991.65,718.4 L992.67,718.87 L993.7,720 L994.72,721.13 L995.75,721.6 L996.77,721.13 L997.8,720 L998.82,718.87 L999.85,718.4 L1000.87,718.87 L1001.9,720 L1002.92,721.13 L1003.95,721.6 L1004.97,721.13 L1006,720 L1007.02,718.87 L1008.05,718.4 L1009.07,718.87 L1010.1,720 L1011.12,721.13 L1012.15,721.6 L1013.17,721.13 L1014.2,720 L1015.22,718.87 L1016.25,718.4 L1017.27,718.87 L1017.5,721.6 L1017.5,722.8Z" fill="#100d15"/>
<circle cx="721.05" cy="727.8" r="1.5" fill="#100d15"/>
<circle cx="729.25" cy="727.8" r="1.5" fill="#100d15"/>
<circle cx="737.45" cy="727.8" r="1.5" fill="#100d15"/>
<circle cx="745.65" cy="727.8" r="1.5" fill="#100d15"/>
<circle cx="753.85" cy="727.8" r="1.5" fill="#100d15"/>
<circle cx="762.05" cy="727.8" r="1.5" fill="#100d15"/>
<circle cx="770.25" cy="727.8" r="1.5" fill="#100d15"/>
<circle cx="778.45" cy="727.8" r="1.5" fill="#100d15"/>
<circle cx="786.65" cy="727.8" r="1.5" fill="#100d15"/>
<circle cx="794.85" cy="727.8" r="1.5" fill="#100d15"/>
<circle cx="803.05" cy="727.8" r="1.5" fill="#100d15"/>
<circle cx="811.25" cy="727.8" r="1.5" fill="#100d15"/>
<circle cx="819.45" cy="727.8" r="1.5" fill="#100d15"/>
<circle cx="827.65" cy="727.8" r="1.5" fill="#100d15"/>
<circle cx="835.85" cy="727.8" r="1.5" fill="#100d15"/>
<circle cx="844.05" cy="727.8" r="1.5" fill="#100d15"/>
<circle cx="852.25" cy="727.8" r="1.5" fill="#100d15"/>
<circle cx="860.45" cy="727.8" r="1.5" fill="#100d15"/>
<circle cx="868.65" cy="727.8" r="1.5" fill="#100d15"/>
<circle cx="876.85" cy="727.8" r="1.5" fill="#100d15"/>
<circle cx="885.05" cy="727.8" r="1.5" fill="#100d15"/>
<circle cx="893.25" cy="727.8" r="1.5" fill="#100d15"/>
<circle cx="901.45" cy="727.8" r="1.5" fill="#100d15"/>
<circle cx="909.65" cy="727.8" r="1.5" fill="#100d15"/>
<circle cx="917.85" cy="727.8" r="1.5" fill="#100d15"/>
<circle cx="926.05" cy="727.8" r="1.5" fill="#100d15"/>
<circle cx="934.25" cy="727.8" r="1.5" fill="#100d15"/>
<circle cx="942.45" cy="727.8" r="1.5" fill="#100d15"/>
<circle cx="950.65" cy="727.8" r="1.5" fill="#100d15"/>
<circle cx="958.85" cy="727.8" r="1.5" fill="#100d15"/>
<circle cx="967.05" cy="727.8" r="1.5" fill="#100d15"/>
<circle cx="975.25" cy="727.8" r="1.5" fill="#100d15"/>
<circle cx="983.45" cy="727.8" r="1.5" fill="#100d15"/>
<circle cx="991.65" cy="727.8" r="1.5" fill="#100d15"/>
<circle cx="999.85" cy="727.8" r="1.5" fill="#100d15"/>
<circle cx="1008.05" cy="727.8" r="1.5" fill="#100d15"/>
<circle cx="1016.25" cy="727.8" r="1.5" fill="#100d15"/>
<path d="M716.95,739.6 L716.95,738.4 L717.97,737.93 L719,736.8 L720.02,735.67 L721.05,735.2 L722.07,735.67 L723.1,736.8 L724.12,737.93 L725.15,738.4 L726.17,737.93 L727.2,736.8 L728.22,735.67 L729.25,735.2 L730.27,735.67 L731.3,736.8 L732.32,737.93 L733.35,738.4 L734.37,737.93 L735.4,736.8 L736.42,735.67 L737.45,735.2 L738.47,735.67 L739.5,736.8 L740.52,737.93 L741.55,738.4 L742.57,737.93 L743.6,736.8 L744.62,735.67 L745.65,735.2 L746.67,735.67 L747.7,736.8 L748.72,737.93 L749.75,738.4 L750.77,737.93 L751.8,736.8 L752.82,735.67 L753.85,735.2 L754.87,735.67 L755.9,736.8 L756.92,737.93 L757.95,738.4 L758.97,737.93 L760,736.8 L761.02,735.67 L762.05,735.2 L763.07,735.67 L764.1,736.8 L765.12,737.93 L766.15,738.4 L767.17,737.93 L768.2,736.8 L769.22,735.67 L770.25,735.2 L771.27,735.67 L772.3,736.8 L773.32,737.93 L774.35,738.4 L775.37,737.93 L776.4,736.8 L777.42,735.67 L778.45,735.2 L779.47,735.67 L780.5,736.8 L781.52,737.93 L782.55,738.4 L783.57,737.93 L784.6,736.8 L785.62,735.67 L786.65,735.2 L787.67,735.67 L788.7,736.8 L789.72,737.93 L790.75,738.4 L791.77,737.93 L792.8,736.8 L793.82,735.67 L794.85,735.2 L795.87,735.67 L796.9,736.8 L797.92,737.93 L798.95,738.4 L799.97,737.93 L801,736.8 L802.02,735.67 L803.05,735.2 L804.07,735.67 L805.1,736.8 L806.12,737.93 L807.15,738.4 L808.17,737.93 L809.2,736.8 L810.22,735.67 L811.25,735.2 L812.27,735.67 L813.3,736.8 L814.32,737.93 L815.35,738.4 L816.37,737.93 L817.4,736.8 L818.42,735.67 L819.45,735.2 L820.47,735.67 L821.5,736.8 L822.52,737.93 L823.55,738.4 L824.57,737.93 L825.6,736.8 L826.62,735.67 L827.65,735.2 L828.67,735.67 L829.7,736.8 L830.72,737.93 L831.75,738.4 L832.77,737.93 L833.8,736.8 L834.82,735.67 L835.85,735.2 L836.87,735.67 L837.9,736.8 L838.92,737.93 L839.95,738.4 L840.97,737.93 L842,736.8 L843.02,735.67 L844.05,735.2 L845.07,735.67 L846.1,736.8 L847.12,737.93 L848.15,738.4 L849.17,737.93 L850.2,736.8 L851.22,735.67 L852.25,735.2 L853.27,735.67 L854.3,736.8 L855.32,737.93 L856.35,738.4 L857.37,737.93 L858.4,736.8 L859.42,735.67 L860.45,735.2 L861.47,735.67 L862.5,736.8 L863.52,737.93 L864.55,738.4 L865.57,737.93 L866.6,736.8 L867.62,735.67 L868.65,735.2 L869.67,735.67 L870.7,736.8 L871.72,737.93 L872.75,738.4 L873.77,737.93 L874.8,736.8 L875.82,735.67 L876.85,735.2 L877.87,735.67 L878.9,736.8 L879.92,737.93 L880.95,738.4 L881.97,737.93 L883,736.8 L884.02,735.67 L885.05,735.2 L886.07,735.67 L887.1,736.8 L888.12,737.93 L889.15,738.4 L890.17,737.93 L891.2,736.8 L892.22,735.67 L893.25,735.2 L894.27,735.67 L895.3,736.8 L896.32,737.93 L897.35,738.4 L898.37,737.93 L899.4,736.8 L900.42,735.67 L901.45,735.2 L902.47,735.67 L903.5,736.8 L904.52,737.93 L905.55,738.4 L906.57,737.93 L907.6,736.8 L908.62,735.67 L909.65,735.2 L910.67,735.67 L911.7,736.8 L912.72,737.93 L913.75,738.4 L914.77,737.93 L915.8,736.8 L916.82,735.67 L917.85,735.2 L918.87,735.67 L919.9,736.8 L920.92,737.93 L921.95,738.4 L922.97,737.93 L924,736.8 L925.02,735.67 L926.05,735.2 L927.07,735.67 L928.1,736.8 L929.12,737.93 L930.15,738.4 L931.17,737.93 L932.2,736.8 L933.22,735.67 L934.25,735.2 L935.27,735.67 L936.3,736.8 L937.32,737.93 L938.35,738.4 L939.37,737.93 L940.4,736.8 L941.42,735.67 L942.45,735.2 L943.47,735.67 L944.5,736.8 L945.52,737.93 L946.55,738.4 L947.57,737.93 L948.6,736.8 L949.62,735.67 L950.65,735.2 L951.67,735.67 L952.7,736.8 L953.72,737.93 L954.75,738.4 L955.77,737.93 L956.8,736.8 L957.82,735.67 L958.85,735.2 L959.87,735.67 L960.9,736.8 L961.92,737.93 L962.95,738.4 L963.97,737.93 L965,736.8 L966.02,735.67 L967.05,735.2 L968.07,735.67 L969.1,736.8 L970.12,737.93 L971.15,738.4 L972.17,737.93 L973.2,736.8 L974.22,735.67 L975.25,735.2 L976.27,735.67 L977.3,736.8 L978.32,737.93 L979.35,738.4 L980.37,737.93 L981.4,736.8 L982.42,735.67 L983.45,735.2 L984.47,735.67 L985.5,736.8 L986.52,737.93 L987.55,738.4 L988.57,737.93 L989.6,736.8 L990.62,735.67 L991.65,735.2 L992.67,735.67 L993.7,736.8 L994.72,737.93 L995.75,738.4 L996.77,737.93 L997.8,736.8 L998.82,735.67 L999.85,735.2 L1000.87,735.67 L1001.9,736.8 L1002.92,737.93 L1003.95,738.4 L1004.97,737.93 L1006,736.8 L1007.02,735.67 L1008.05,735.2 L1009.07,735.67 L1010.1,736.8 L1011.12,737.93 L1012.15,738.4 L1013.17,737.93 L1014.2,736.8 L1015.22,735.67 L1016.25,735.2 L1017.27,735.67 L1017.5,738.4 L1017.5,739.6Z" fill="#100d15"/>
<rect x="746" y="737.8" width="271.5" height="4.1" fill="#6e6a72"/>
<rect x="709" y="737.8" width="37" height="4.2" fill="#100d15"/>
<line x1="775" y1="690" x2="775" y2="722" stroke="#8c8a8e" stroke-width="3.2" />
<line x1="938.4" y1="691" x2="938.4" y2="745" stroke="#8c8a8e" stroke-width="3.2" />
<line x1="956" y1="691" x2="956" y2="722" stroke="#8c8a8e" stroke-width="3.2" />
<line x1="772.9" y1="594" x2="772.9" y2="676.5" stroke="#100d15" stroke-width="1.8" />
<rect x="758.5" y="674" width="30.8" height="4.2" fill="#100d15"/>
<line x1="789" y1="674.4" x2="1017.5" y2="674.4" stroke="#100d15" stroke-width="1.6" />
<line x1="792" y1="678.6" x2="1017.5" y2="678.6" stroke="#100d15" stroke-width="2.2" stroke-dasharray="11 6.5"/>
<rect x="446.6" y="430.2" width="101" height="9" fill="none" stroke="#100d15" stroke-width="1.6" />
<path d="M471.5,482 V496.6 H522.7 V482 M519,482 V489.5 H501 V439.2 M493.3,439.2 V489.5 H479.6 V482" fill="none" stroke="#100d15" stroke-width="1.6" />
<path d="M455,460 V505 A42,49.6 0 0 0 539,505 V460 Q539,456 535.6,456 Q532.3,456 532.3,460 V508 A34.75,38.8 0 0 1 462.8,508 V460 Q462.8,456 458.9,456 Q455,456 455,460 Z" fill="#fcfdfe" stroke="#100d15" stroke-width="1.6" />
<ellipse cx="453.7" cy="464.3" rx="3.6" ry="4.1" fill="#fcfdfe" stroke="#100d15" stroke-width="1.6"/>
<ellipse cx="540.5" cy="464.3" rx="3.6" ry="4.1" fill="#fcfdfe" stroke="#100d15" stroke-width="1.6"/>
<path d="M466.4,449 Q468.4,447.6 470.4,449 V480 H466.4 Z" fill="#c9c6ca" stroke="#100d15" stroke-width="1.5" />
<path d="M479,449 Q481,447.6 483,449 V480 H479 Z" fill="#fcfdfe" stroke="#100d15" stroke-width="1.5" />
<path d="M470.4,452 Q474.7,455 479,452 M470.4,477 Q474.7,474 479,477" fill="none" stroke="#100d15" stroke-width="1.4" />
<path d="M510.6,449 Q512.6,447.6 514.6,449 V480 H510.6 Z" fill="#c9c6ca" stroke="#100d15" stroke-width="1.5" />
<path d="M523.2,449 Q525.2,447.6 527.2,449 V480 H523.2 Z" fill="#fcfdfe" stroke="#100d15" stroke-width="1.5" />
<path d="M514.6,452 Q518.9,455 523.2,452 M514.6,477 Q518.9,474 523.2,477" fill="none" stroke="#100d15" stroke-width="1.4" />
<ellipse cx="485.4" cy="464.3" rx="2.1" ry="3.4" fill="#100d15" stroke="#100d15" stroke-width="1.4"/>
<ellipse cx="508" cy="464.3" rx="2.1" ry="3.4" fill="#fcfdfe" stroke="#100d15" stroke-width="1.4"/>
<rect x="482.5" y="541" width="26.9" height="41" fill="none" stroke="#100d15" stroke-width="1.5" rx="13.4"/>
<rect x="486.5" y="545.4" width="19" height="32.6" fill="none" stroke="#100d15" stroke-width="1.3" rx="9.5"/>
<rect x="484.5" y="543.2" width="23" height="36.8" rx="11.4" fill="none" stroke="#dedce0" stroke-width="2.2"/>
<line x1="487.6" y1="582" x2="487.6" y2="1054.4" stroke="#100d15" stroke-width="1.4" stroke-dasharray="7.5 3.2"/>
<line x1="498.1" y1="582" x2="498.1" y2="1054.4" stroke="#100d15" stroke-width="1.4" stroke-dasharray="7.5 3.2"/>
<line x1="504" y1="582" x2="504" y2="1054.4" stroke="#100d15" stroke-width="1.4" stroke-dasharray="7.5 3.2"/>
<rect x="562.6" y="430.2" width="101" height="9" fill="none" stroke="#100d15" stroke-width="1.6" />
<path d="M587.5,482 V496.6 H638.7 V482 M635,482 V489.5 H617 V439.2 M609.3,439.2 V489.5 H595.6 V482" fill="none" stroke="#100d15" stroke-width="1.6" />
<path d="M571,460 V505 A42,49.6 0 0 0 655,505 V460 Q655,456 651.6,456 Q648.3,456 648.3,460 V508 A34.75,38.8 0 0 1 578.8,508 V460 Q578.8,456 574.9,456 Q571,456 571,460 Z" fill="#fcfdfe" stroke="#100d15" stroke-width="1.6" />
<ellipse cx="569.7" cy="464.3" rx="3.6" ry="4.1" fill="#fcfdfe" stroke="#100d15" stroke-width="1.6"/>
<ellipse cx="656.5" cy="464.3" rx="3.6" ry="4.1" fill="#fcfdfe" stroke="#100d15" stroke-width="1.6"/>
<path d="M582.4,449 Q584.4,447.6 586.4,449 V480 H582.4 Z" fill="#c9c6ca" stroke="#100d15" stroke-width="1.5" />
<path d="M595,449 Q597,447.6 599,449 V480 H595 Z" fill="#fcfdfe" stroke="#100d15" stroke-width="1.5" />
<path d="M586.4,452 Q590.7,455 595,452 M586.4,477 Q590.7,474 595,477" fill="none" stroke="#100d15" stroke-width="1.4" />
<path d="M626.6,449 Q628.6,447.6 630.6,449 V480 H626.6 Z" fill="#c9c6ca" stroke="#100d15" stroke-width="1.5" />
<path d="M639.2,449 Q641.2,447.6 643.2,449 V480 H639.2 Z" fill="#fcfdfe" stroke="#100d15" stroke-width="1.5" />
<path d="M630.6,452 Q634.9,455 639.2,452 M630.6,477 Q634.9,474 639.2,477" fill="none" stroke="#100d15" stroke-width="1.4" />
<ellipse cx="601.4" cy="464.3" rx="2.1" ry="3.4" fill="#fcfdfe" stroke="#100d15" stroke-width="1.4"/>
<ellipse cx="624" cy="464.3" rx="2.1" ry="3.4" fill="#fcfdfe" stroke="#100d15" stroke-width="1.4"/>
<rect x="598.5" y="541" width="26.9" height="41" fill="none" stroke="#100d15" stroke-width="1.5" rx="13.4"/>
<rect x="602.5" y="545.4" width="19" height="32.6" fill="none" stroke="#100d15" stroke-width="1.3" rx="9.5"/>
<rect x="600.5" y="543.2" width="23" height="36.8" rx="11.4" fill="none" stroke="#dedce0" stroke-width="2.2"/>
<line x1="603.6" y1="582" x2="603.6" y2="1054.4" stroke="#100d15" stroke-width="1.4" stroke-dasharray="7.5 3.2"/>
<line x1="614.1" y1="582" x2="614.1" y2="1054.4" stroke="#100d15" stroke-width="1.4" stroke-dasharray="7.5 3.2"/>
<line x1="620" y1="582" x2="620" y2="1054.4" stroke="#100d15" stroke-width="1.4" stroke-dasharray="7.5 3.2"/>
<line x1="332" y1="1054.4" x2="620" y2="1054.4" stroke="#100d15" stroke-width="1.6" stroke-dasharray="21 6"/>
<line x1="658.7" y1="427" x2="658.7" y2="749.7" stroke="#100d15" stroke-width="1.5" />
<line x1="654" y1="741" x2="691" y2="741" stroke="#100d15" stroke-width="1.5" />
<line x1="655" y1="744.5" x2="662.5" y2="737.5" stroke="#100d15" stroke-width="1.4" />
<line x1="392.5" y1="793.7" x2="716" y2="793.7" stroke="#100d15" stroke-width="1.6" />
<line x1="401.4" y1="762.7" x2="401.4" y2="801" stroke="#100d15" stroke-width="1.7" />
<line x1="708.5" y1="762.7" x2="708.5" y2="801" stroke="#100d15" stroke-width="1.7" />
<line x1="397.4" y1="797.5" x2="405.4" y2="789.9" stroke="#100d15" stroke-width="1.4" />
<line x1="704.5" y1="797.5" x2="712.5" y2="789.9" stroke="#100d15" stroke-width="1.4" />
<path d="M435,99.8 V185.4 H469" fill="none" stroke="#100d15" stroke-width="1.5" />
<circle cx="435" cy="99.8" r="2.2" fill="#100d15"/>
<path d="M499,226 H436 V426.6" fill="none" stroke="#100d15" stroke-width="1.5" />
<circle cx="436" cy="426.6" r="2.2" fill="#100d15"/>
<path d="M521,277 H457 V412" fill="none" stroke="#100d15" stroke-width="1.5" />
<polygon points="454,416 462,421 455,425" fill="#100d15"/>
<path d="M549,327 H481 V379.3" fill="none" stroke="#100d15" stroke-width="1.5" />
<circle cx="481" cy="379.3" r="2.4" fill="#100d15"/>
<path d="M204,278 H415.9 V325" fill="none" stroke="#100d15" stroke-width="1.4" />
<circle cx="415.9" cy="325" r="2.2" fill="#100d15"/>
<path d="M204,594 H434.7 L482,478" fill="none" stroke="#100d15" stroke-width="1.4" />
<path d="M207,858.6 H312" fill="none" stroke="#100d15" stroke-width="1.4" />
<circle cx="312" cy="858.6" r="2.2" fill="#100d15"/>
<line x1="739" y1="453.4" x2="866" y2="453.4" stroke="#100d15" stroke-width="1.5" />
<circle cx="739" cy="453.4" r="2.4" fill="#100d15"/>
<line x1="726" y1="500.5" x2="866" y2="500.5" stroke="#100d15" stroke-width="1.5" />
<polygon points="717,494.5 726,500.5 717,506.5" fill="#100d15"/>
<line x1="709" y1="546.9" x2="866" y2="546.9" stroke="#100d15" stroke-width="1.5" />
<circle cx="709" cy="546.9" r="2.3" fill="#100d15"/>
<line x1="773" y1="594" x2="866" y2="594" stroke="#100d15" stroke-width="1.5" />
<path d="M731,742 L773,811.5 H741" fill="none" stroke="#100d15" stroke-width="1.5" />
<path d="M939.3,745 V811.2 H971" fill="none" stroke="#100d15" stroke-width="1.6" />
<path d="M900.2,697 V858.6 H931.5" fill="none" stroke="#100d15" stroke-width="1.6" />
<circle cx="900" cy="697" r="2.6" fill="#100d15"/>
<path d="M853.4,740 V905 H884" fill="none" stroke="#100d15" stroke-width="1.6" />
<circle cx="853" cy="740" r="2.4" fill="#100d15"/>
<path d="M805.2,720.5 V952.3 H835.2" fill="none" stroke="#100d15" stroke-width="1.6" />
<circle cx="805" cy="720.5" r="2.6" fill="#100d15"/>
<path d="M614,905.5 H673" fill="none" stroke="#100d15" stroke-width="1.5" />
<circle cx="614" cy="905.5" r="2.6" fill="#100d15"/>
<text x="471" y="190.6" font-size="18" fill="#100d15" textLength="78" lengthAdjust="spacingAndGlyphs" >建筑楼板</text>
<text x="505" y="234.1" font-size="18" fill="#100d15" textLength="98" lengthAdjust="spacingAndGlyphs" >乳胶漆饰面</text>
<text x="521" y="284.6" font-size="18" fill="#100d15" textLength="109" lengthAdjust="spacingAndGlyphs" >9. 5MM石膏板</text>
<text x="549" y="333.1" font-size="18" fill="#100d15" textLength="176" lengthAdjust="spacingAndGlyphs" >双层基层板阻燃处理</text>
<text x="83" y="283.6" font-size="18" fill="#100d15" textLength="117" lengthAdjust="spacingAndGlyphs" >木方阻燃处理</text>
<text x="127" y="599.6" font-size="18" fill="#100d15" textLength="75" lengthAdjust="spacingAndGlyphs" >窗帘滑轨</text>
<text x="151.5" y="864.2" font-size="18" fill="#100d15" textLength="55.5" lengthAdjust="spacingAndGlyphs" >建筑窗</text>
<text x="871" y="195.6" font-size="18" fill="#100d15" textLength="106" lengthAdjust="spacingAndGlyphs" >Φ8膨胀螺栓</text>
<text x="871" y="265.6" font-size="18" fill="#100d15" textLength="106" lengthAdjust="spacingAndGlyphs" >Φ8全丝吊杆</text>
<text x="872" y="357.6" font-size="18" fill="#100d15" textLength="118" lengthAdjust="spacingAndGlyphs" >扁铁@300间距</text>
<text x="869" y="460.6" font-size="18" fill="#100d15" textLength="138" lengthAdjust="spacingAndGlyphs" >基层板阻燃处理</text>
<text x="872" y="506.6" font-size="18" fill="#100d15" textLength="108" lengthAdjust="spacingAndGlyphs" >9. 5MM石膏板</text>
<text x="869" y="552.6" font-size="18" fill="#100d15" textLength="100" lengthAdjust="spacingAndGlyphs" >乳胶漆饰面</text>
<text x="870" y="599.6" font-size="18" fill="#100d15" textLength="59" lengthAdjust="spacingAndGlyphs" >边龙骨</text>
<text x="643" y="817.6" font-size="18" fill="#100d15" textLength="98" lengthAdjust="spacingAndGlyphs" >阳角护角条</text>
<text x="974" y="818.1" font-size="18" fill="#100d15" textLength="160" lengthAdjust="spacingAndGlyphs" >十字沉头自攻螺丝</text>
<text x="935" y="865.6" font-size="18" fill="#100d15" textLength="76" lengthAdjust="spacingAndGlyphs" >覆面龙骨</text>
<text x="887" y="910.6" font-size="18" fill="#100d15" textLength="98" lengthAdjust="spacingAndGlyphs" >乳胶漆饰面</text>
<text x="837" y="957.6" font-size="18" fill="#100d15" textLength="169" lengthAdjust="spacingAndGlyphs" >双层9. 5MM厚石膏板</text>
<text x="675" y="912.6" font-size="18" fill="#100d15" textLength="36" lengthAdjust="spacingAndGlyphs" >窗帘</text>
<text x="534" y="787.5" font-size="16" fill="#3a3540" textLength="42" lengthAdjust="spacingAndGlyphs" >±200</text>
<text x="0" y="0" font-size="16" fill="#3a3540" textLength="41" lengthAdjust="spacingAndGlyphs" transform="translate(653.3,605.8) rotate(-90)">±200</text>
</svg>
</body></html>
